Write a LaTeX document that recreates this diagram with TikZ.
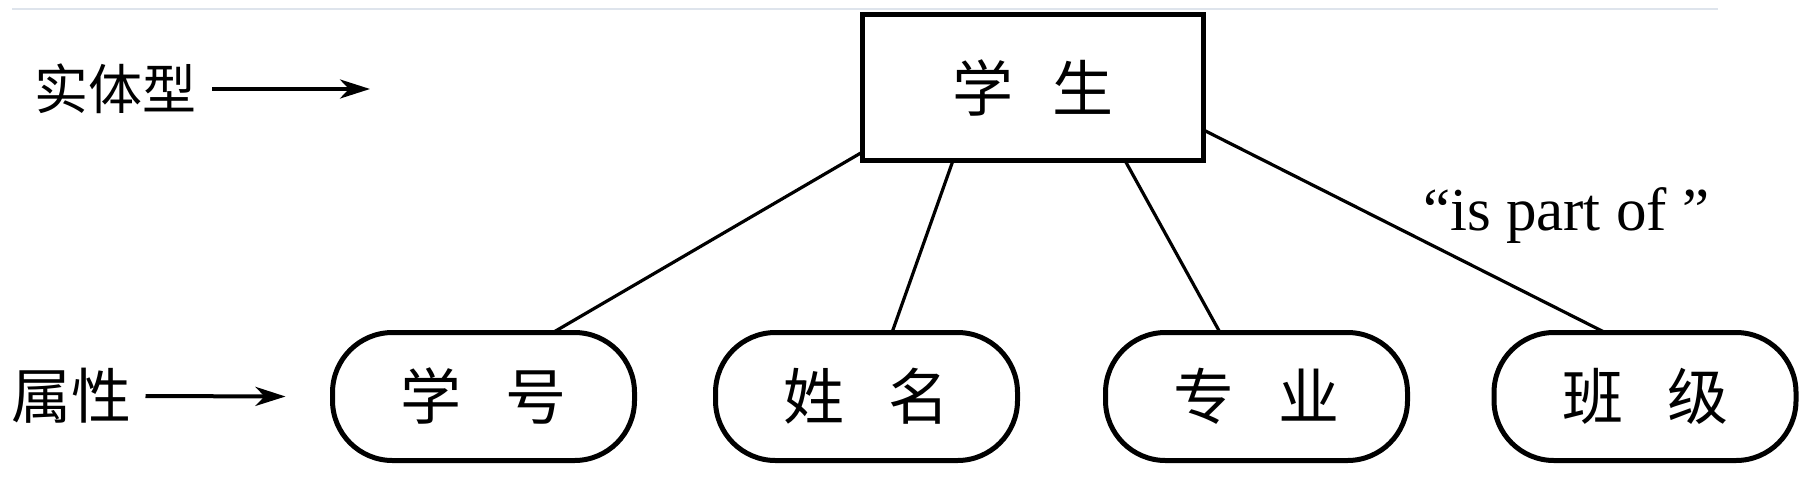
\documentclass[tikz,border=0pt]{standalone}
\usepackage{fontspec}
\setmainfont{Liberation Serif}
\newfontfamily\cjk{Noto Sans CJK SC}
\usetikzlibrary{arrows.meta}
\definecolor{faint}{RGB}{222,228,236}
\begin{document}
\begin{tikzpicture}[x=1pt,y=-1pt,
  entity/.style={draw, line width=5.5pt, minimum width=341pt, minimum height=146pt,
    inner sep=0pt, outer sep=0pt, font=\cjk\fontsize{61}{61}\selectfont},
  attr/.style={draw, line width=5pt, rounded corners=60pt, minimum width=302pt,
    minimum height=128pt, inner sep=0pt, outer sep=0pt, font=\cjk\fontsize{61}{61}\selectfont},
  link/.style={line width=3.2pt},
  lbl/.style={inner sep=0pt, outer sep=0pt},
  arr/.style={line width=4pt, -{Stealth[length=30pt,width=19pt,inset=9pt]}},
]
\useasboundingbox (0,0) rectangle (1806,477);
% faint scan line at the top
\draw[faint, line width=2pt] (12,9) -- (1718,9);

% entity
\node[entity] (s) at (1033,87.5) {学\hspace{39pt}生};

% attributes
\node[attr] (a1) at (483.5,396.5) {学\hspace{44pt}号};
\node[attr] (a2) at (866.5,396.5) {姓\hspace{44pt}名};
\node[attr] (a3) at (1256.5,396.5) {专\hspace{44pt}业};
\node[attr] (a4) at (1645,396.5) {班\hspace{44pt}级};

% connectors
\draw[link] ([yshift=8.5pt]s.south west) -- ([xshift=69.5pt]a1.north);
\draw[link] ([xshift=-80pt]s.south) -- ([xshift=25.5pt]a2.north);
\draw[link] ([xshift=92pt]s.south) -- ([xshift=-36.5pt]a3.north);
\draw[link] ([yshift=30.5pt]s.south east) -- ([xshift=-40pt]a4.north);

% left labels
\node[lbl, font=\cjk\fontsize{54}{54}\selectfont] (t1) at (115,89) {实体型};
\coordinate (e1) at (370,89);
\draw[arr] ([xshift=16pt]t1.east) -- (e1);

\node[lbl, font=\cjk\fontsize{60}{60}\selectfont] (t2) at (71.5,396) {属性};
\draw[arr] ([xshift=14pt]t2.east) -- ([xshift=-47pt]a1.west);

% relation label
\node[lbl, anchor=base west, font=\fontsize{61}{61}\selectfont] (rel) at (1423,230) {“is part of ”};
\end{tikzpicture}
\end{document}
